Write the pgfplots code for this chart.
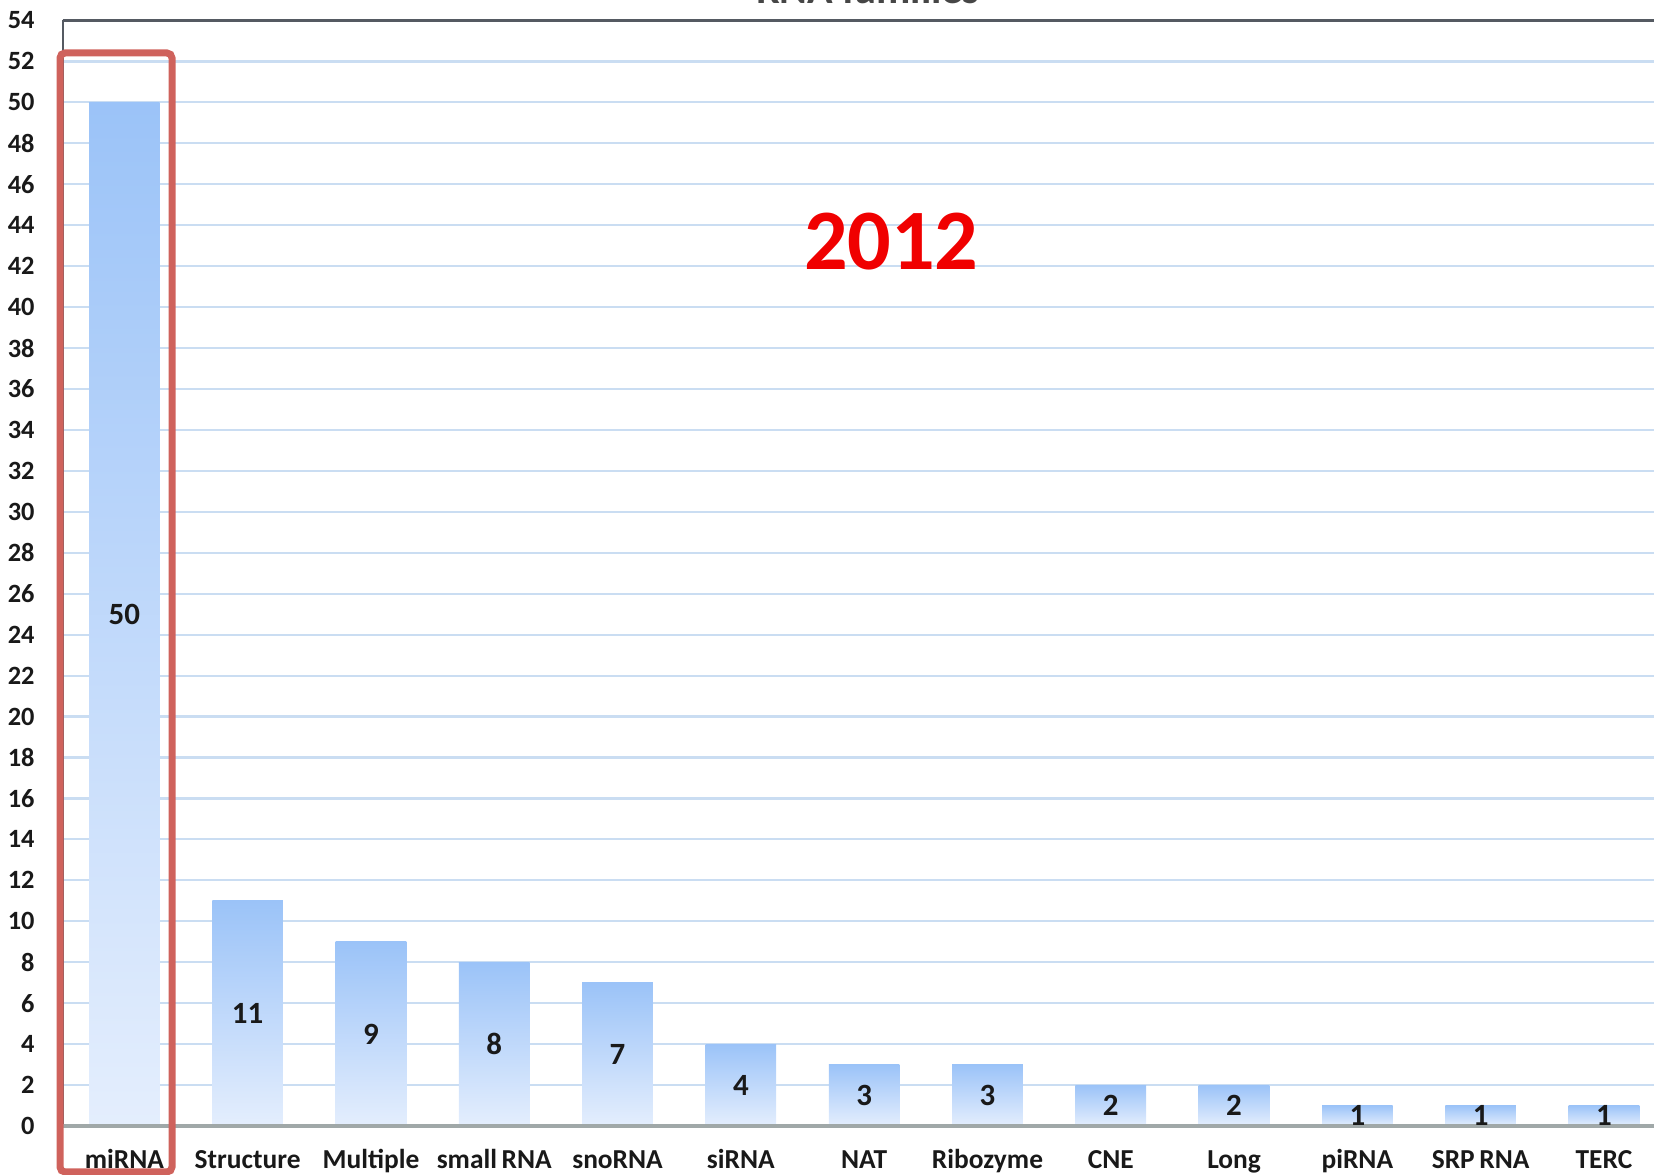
\documentclass[border=0pt]{standalone}
\usepackage{pgfplots}
\pgfplotsset{compat=1.18}
\usepackage{fontspec}
\setmainfont{Carlito}
\definecolor{barTop}{RGB}{155,195,248}
\definecolor{barBot}{RGB}{228,238,253}
\definecolor{gridc}{RGB}{202,221,242}
\definecolor{framec}{RGB}{85,90,98}
\definecolor{zeroline}{RGB}{160,168,168}
\definecolor{boxred}{RGB}{207,98,92}
\definecolor{yearred}{RGB}{240,0,0}
\definecolor{titlegray}{RGB}{70,70,70}
\pgfplotsset{onebar/.style={ybar, bar width=0.573, bar shift=0pt, draw=none, top color=barTop, bottom color=barBot}}
\begin{document}
\begin{tikzpicture}
\begin{axis}[
 at={(6.27mm,4.9mm)}, anchor=south west,
 width=160.29mm, height=110.55mm, scale only axis,
 xmin=-0.5, xmax=12.5, ymin=0, ymax=54,
 clip=false,
 axis line style={draw=none},
 major tick length=0pt,
 ytick={0,2,...,54},
 xtick={0,...,12},
 xticklabels={miRNA,Structure,Multiple,small\,RNA,snoRNA,siRNA,NAT,Ribozyme,CNE,Long,piRNA,SRP\,RNA,TERC},
 ymajorgrids,
 major grid style={draw=gridc, line width=0.22mm},
 /pgf/number format/assume math mode=true,
 yticklabel style={font=\fontsize{7.5}{8}\selectfont\bfseries, text=black!90, anchor=east, inner sep=0pt, xshift=-2.75mm},
 xticklabel style={font=\fontsize{7.8}{8}\selectfont\bfseries, text=black!90, anchor=base, inner sep=0pt, yshift=-4.3mm},
]
\addplot[onebar] coordinates {(0,50)};
\addplot[onebar] coordinates {(1,11)};
\addplot[onebar] coordinates {(2,9)};
\addplot[onebar] coordinates {(3,8)};
\addplot[onebar] coordinates {(4,7)};
\addplot[onebar] coordinates {(5,4)};
\addplot[onebar] coordinates {(6,3)};
\addplot[onebar] coordinates {(7,3)};
\addplot[onebar] coordinates {(8,2)};
\addplot[onebar] coordinates {(9,2)};
\addplot[onebar] coordinates {(10,1)};
\addplot[onebar] coordinates {(11,1)};
\addplot[onebar] coordinates {(12,1)};
\addplot[draw=none, mark=none, nodes near coords, point meta=explicit symbolic,
 nodes near coords align={center},
 every node near coord/.append style={font=\fontsize{8.8}{9}\selectfont\bfseries, text=black!90, inner sep=0pt, anchor=center}]
 coordinates {(0,25)[50] (1,5.5)[11] (2,4.5)[9] (3,4)[8] (4,3.5)[7] (5,2)[4] (6,1.5)[3] (7,1.5)[3] (8,1)[2] (9,1)[2] (10,0.5)[1] (11,0.5)[1] (12,0.5)[1]};
\draw[framec, line width=0.3mm] (rel axis cs:0,1) -- (rel axis cs:1,1);
\draw[framec, line width=0.18mm] (rel axis cs:0,0) -- (rel axis cs:0,1);
\draw[zeroline, line width=0.35mm] (rel axis cs:0,0) -- (rel axis cs:1,0);
\node[text=yearred, font=\fontsize{24.5}{25}\selectfont\bfseries] at (axis cs:6.22,43.2) {2012};
\end{axis}
\node[anchor=base, text=titlegray, font=\fontsize{12}{12}\selectfont\bfseries] at (86.8mm,117.15mm) {RNA families};
\draw[boxred, line width=0.7mm, rounded corners=0.5mm] (6.0mm,0.3mm) rectangle (17.2mm,112.2mm);
\pgfresetboundingbox
\useasboundingbox (0,0) rectangle (165.4mm,117.5mm);
\end{tikzpicture}
\end{document}
